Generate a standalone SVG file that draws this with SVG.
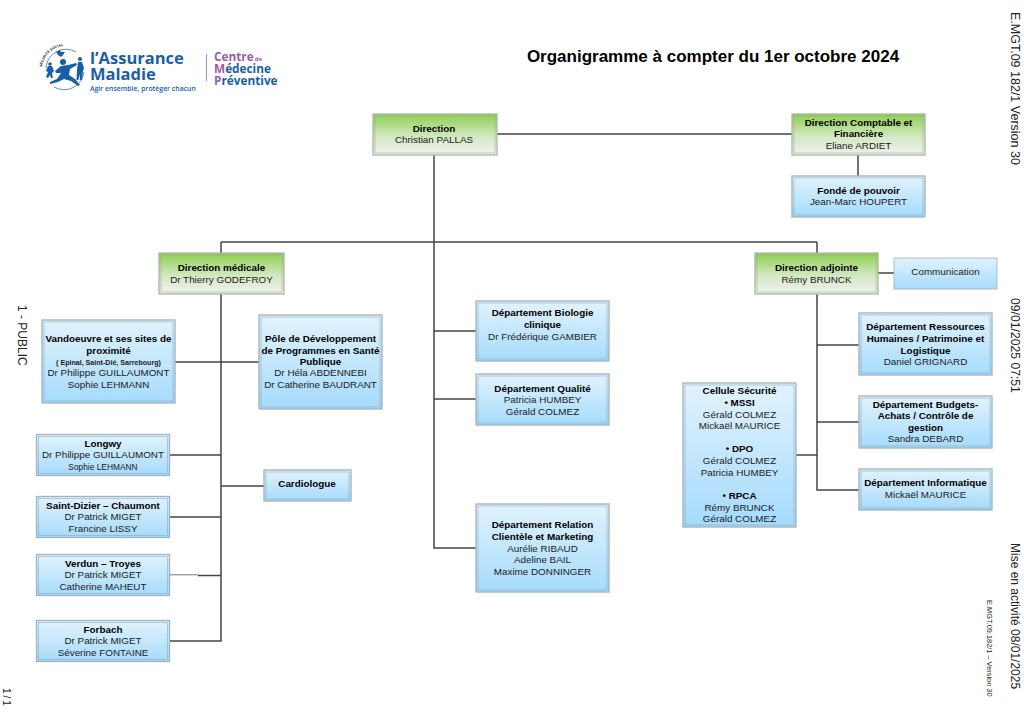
<svg xmlns="http://www.w3.org/2000/svg" width="1024" height="724" viewBox="0 0 1024 724">
<style>
text{font-family:"Liberation Sans",Arial,sans-serif;fill:#1a1a1a}
.t{font-size:9.850px;text-anchor:middle;transform:translateY(-.5px)}
.b{font-size:9.850px;text-anchor:middle;font-weight:bold;fill:#000;transform:translateY(-.5px)}
.s{font-size:7.100px;text-anchor:middle;font-weight:bold}
.r{font-size:12px;fill:#222}
.blue{fill:url(#gb);stroke:#9fb2bf;stroke-width:1.300}
.green{fill:url(#gg);stroke:#a9b8a0;stroke-width:1.300}
.inner{fill:none;stroke:#7f9fb5;stroke-width:.5}
.ing{fill:none;stroke:#98a58e;stroke-width:.5}
.c{fill:none;stroke:#444;stroke-width:1.500}
.c2{fill:none;stroke:#666;stroke-width:.9}
.lb{fill:#1a5ea8;font-family:"Open Sans","Liberation Sans",sans-serif;font-weight:bold}
.la{fill:#1a5ea8;font-family:"Open Sans","Liberation Sans",sans-serif;font-weight:600}
.lp{fill:#9a5ba8}
.fig{fill:#1a5ea8}
</style>
<defs>
<linearGradient id="gb" x1="0" y1="0" x2="0" y2="1"><stop offset="0" stop-color="#e2f3fd"/><stop offset="1" stop-color="#a5dbfc"/></linearGradient>
<linearGradient id="gg" x1="0" y1="0" x2="0" y2="1"><stop offset="0" stop-color="#8cd04e"/><stop offset=".55" stop-color="#d3e8c2"/><stop offset="1" stop-color="#f1f1f1"/></linearGradient>
</defs>
<rect width="1024" height="724" fill="#fff"/>

<g id="logo">
<path d="M46 68A20 20 0 0 1 76 52" fill="none" stroke="#1a5ea8" stroke-width=".7"/>
<path d="M54 87A20 20 0 0 0 84 72" fill="none" stroke="#1a5ea8" stroke-width=".7"/>
<circle class="fig" cx="63" cy="62" r="3"/>
<path class="fig" d="M55 71L61 66L68 65L76 63L77 65L70 69L69 75L75 79L80 85L78 86L71 81L64 79L58 82L50 84L50 82L57 79L61 73L56 73Z"/>
<circle class="fig" cx="80" cy="59" r="2"/>
<path class="fig" d="M78 62L82 62L84 68L83 71L82 80L80 80L79.500 74L78.500 80L76.500 80L77 70Z"/>
<circle class="fig" cx="50" cy="64" r="1.800"/>
<path class="fig" d="M48 66L52 66L54 71L52 73L53 78L51 78L50 75L48 78L46 77L48 72L46 71Z"/>
<path class="fig" d="M56 52L60 50L61 52L65 52L63 55L61 57L58 55Z"/>
<path id="arc" d="M42 67A24 24 0 0 1 64 46" fill="none"/>
<text font-size="3.500" fill="#1a5ea8" font-weight="bold"><textPath href="#arc">SÉCURITÉ SOCIALE</textPath></text>
<text class="lb" x="90" y="64" font-size="16.500">l’Assurance</text>
<text class="lb" x="90" y="80" font-size="16.500">Maladie</text>
<text class="la" x="90" y="90.500" font-size="6.900">Agir ensemble, protéger chacun</text>
<rect x="206" y="54" width="1" height="27" fill="#b58bc0"/>
<text class="lb" x="214" y="60.500" font-size="11.800"><tspan class="lp">Centre</tspan><tspan class="lp" font-size="6" dx="1">de</tspan></text>
<text class="lb" x="214" y="72.500" font-size="11.800"><tspan class="lp">M</tspan>édecine</text>
<text class="lb" x="214" y="84.500" font-size="11.800"><tspan class="lp">P</tspan>réventive</text>
</g>

<text id="title" x="713" y="62" font-size="17" font-weight="bold" text-anchor="middle" style="fill:#000">Organigramme à compter du 1er octobre 2024</text>

<g id="margins">
<text class="r" style="font-size:12.500px" transform="translate(1011 12) rotate(90)">E.MGT.09 182/1 Version 30</text>
<text class="r" transform="translate(1011 298) rotate(90)" style="font-size:12.200px">09/01/2025 07:51</text>
<text class="r" transform="translate(1011 543) rotate(90)">Mise en activité 08/01/2025</text>
<text transform="translate(987 600) rotate(90)" font-size="7.400">E.MGT.09.182/1 – Version 30</text>
<text class="r" transform="translate(18 305) rotate(90)">1 - PUBLIC</text>
<text transform="translate(3 688) rotate(90)" font-size="10" letter-spacing="2">1/1</text>
</g>

<g id="connectors">
<path class="c" d="M497 134H792M858 155V176M434 155V548H476M221 242H817M221 242V253M817 242V253M221 294V641H170M817 294V490H859M175 362H259M170 455H221M221 486H264M170 517H221M198 575.500H221M434 331H476M434 399H476M878 273H894M817 345H859M817 422H859M796 455H817"/>
<path class="c2" d="M170 574.800H198"/>
</g>

<g id="n-direction"><rect class="green" x="373" y="114" width="124" height="41"/><rect class="ing" x="375" y="116" width="120" height="37"/><text class="b" x="434" y="132">Direction</text><text class="t" x="434" y="143">Christian PALLAS</text></g>
<g id="n-comptable"><rect class="green" x="792" y="114" width="133" height="41"/><rect class="ing" x="794" y="116" width="129" height="37"/><text class="b" x="858.500" y="126">Direction Comptable et</text><text class="b" x="858.500" y="137.500">Financière</text><text class="t" x="858.500" y="149">Eliane ARDIET</text></g>
<g id="n-fonde"><rect class="blue" x="792" y="176" width="133" height="41"/><rect class="inner" x="794" y="178" width="129" height="37"/><text class="b" x="858.500" y="194">Fondé de pouvoir</text><text class="t" x="858.500" y="205">Jean-Marc HOUPERT</text></g>
<g id="n-medicale"><rect class="green" x="159" y="253" width="125" height="41"/><rect class="ing" x="161" y="255" width="121" height="37"/><text class="b" x="221.500" y="271">Direction médicale</text><text class="t" x="221.500" y="283">Dr Thierry GODEFROY</text></g>
<g id="n-adjointe"><rect class="green" x="755" y="253" width="123" height="41"/><rect class="ing" x="757" y="255" width="119" height="37"/><text class="b" x="816.500" y="271">Direction adjointe</text><text class="t" x="816.500" y="283">Rémy BRUNCK</text></g>
<g id="n-communication"><rect class="blue" x="894" y="258" width="103" height="31" style="stroke-width:.8"/><text class="t" x="945.500" y="275">Communication</text></g>
<g id="n-vandoeuvre"><rect class="blue" x="42" y="320" width="133" height="83"/><rect class="inner" x="44" y="322" width="129" height="79"/><text class="b" x="108.500" y="342">Vandoeuvre et ses sites de</text><text class="b" x="108.500" y="354">proximité</text><text class="s" x="108.500" y="365">( Epinal, Saint-Dié, Sarrebourg)</text><text class="t" x="108.500" y="376">Dr Philippe GUILLAUMONT</text><text class="t" x="108.500" y="388">Sophie LEHMANN</text></g>
<g id="n-pole"><rect class="blue" x="259" y="315" width="123" height="94"/><rect class="inner" x="261" y="317" width="119" height="90"/><text class="b" x="320.500" y="342">Pôle de Développement</text><text class="b" x="320.500" y="354">de Programmes en Santé</text><text class="b" x="320.500" y="365">Publique</text><text class="t" x="320.500" y="376">Dr Héla ABDENNEBI</text><text class="t" x="320.500" y="388">Dr Catherine BAUDRANT</text></g>
<g id="n-longwy"><rect class="blue" x="36.500" y="434.500" width="133" height="41"/><rect class="inner" x="38.500" y="436.500" width="129" height="37"/><text class="b" x="103" y="447">Longwy</text><text class="t" x="103" y="458">Dr Philippe GUILLAUMONT</text><text x="103" y="470" font-size="8.400" text-anchor="middle">Sophie LEHMANN</text></g>
<g id="n-cardiologue"><rect class="blue" x="264" y="470" width="87" height="31"/><rect class="inner" x="266" y="472" width="83" height="27"/><text class="b" x="307" y="487">Cardiologue</text></g>
<g id="n-saintdizier"><rect class="blue" x="36.500" y="496.500" width="133" height="41"/><rect class="inner" x="38.500" y="498.500" width="129" height="37"/><text class="b" x="103" y="509">Saint-Dizier – Chaumont</text><text class="t" x="103" y="520.500">Dr Patrick MIGET</text><text class="t" x="103" y="532">Francine LISSY</text></g>
<g id="n-verdun"><rect class="blue" x="36.500" y="554.500" width="133" height="41"/><rect class="inner" x="38.500" y="556.500" width="129" height="37"/><text class="b" x="103" y="567">Verdun – Troyes</text><text class="t" x="103" y="578.500">Dr Patrick MIGET</text><text class="t" x="103" y="590">Catherine MAHEUT</text></g>
<g id="n-forbach"><rect class="blue" x="36.500" y="620.500" width="133" height="41"/><rect class="inner" x="38.500" y="622.500" width="129" height="37"/><text class="b" x="103" y="633">Forbach</text><text class="t" x="103" y="644.500">Dr Patrick MIGET</text><text class="t" x="103" y="656">Séverine FONTAINE</text></g>
<g id="n-biologie"><rect class="blue" x="476" y="301" width="133" height="60"/><rect class="inner" x="478" y="303" width="129" height="56"/><text class="b" x="542.500" y="316">Département Biologie</text><text class="b" x="542.500" y="328">clinique</text><text class="t" x="542.500" y="340">Dr Frédérique GAMBIER</text></g>
<g id="n-qualite"><rect class="blue" x="476" y="374" width="133" height="51"/><rect class="inner" x="478" y="376" width="129" height="47"/><text class="b" x="542.500" y="392">Département Qualité</text><text class="t" x="542.500" y="403">Patricia HUMBEY</text><text class="t" x="542.500" y="415">Gérald COLMEZ</text></g>
<g id="n-relation"><rect class="blue" x="476" y="504" width="133" height="88"/><rect class="inner" x="478" y="506" width="129" height="84"/><text class="b" x="542.500" y="528">Département Relation</text><text class="b" x="542.500" y="540">Clientèle et Marketing</text><text class="t" x="542.500" y="552">Aurélie RIBAUD</text><text class="t" x="542.500" y="563.500">Adeline BAIL</text><text class="t" x="542.500" y="575">Maxime DONNINGER</text></g>
<g id="n-cellule"><rect class="blue" x="683" y="383" width="113" height="144"/><rect class="inner" x="685" y="385" width="109" height="140"/><text class="b" x="739.500" y="394">Cellule Sécurité</text><text class="b" x="739.500" y="406">• MSSI</text><text class="t" x="739.500" y="418">Gérald COLMEZ</text><text class="t" x="739.500" y="429">Mickaël MAURICE</text><text class="b" x="739.500" y="452">• DPO</text><text class="t" x="739.500" y="464.500">Gérald COLMEZ</text><text class="t" x="739.500" y="476">Patricia HUMBEY</text><text class="b" x="739.500" y="499">• RPCA</text><text class="t" x="739.500" y="511">Rémy BRUNCK</text><text class="t" x="739.500" y="522.500">Gérald COLMEZ</text></g>
<g id="n-rh"><rect class="blue" x="859" y="313" width="133" height="62"/><rect class="inner" x="861" y="315" width="129" height="58"/><text class="b" x="925.500" y="330">Département Ressources</text><text class="b" x="925.500" y="342">Humaines / Patrimoine et</text><text class="b" x="925.500" y="354">Logistique</text><text class="t" x="925.500" y="365">Daniel GRIGNARD</text></g>
<g id="n-budgets"><rect class="blue" x="859" y="396" width="133" height="52"/><rect class="inner" x="861" y="398" width="129" height="48"/><text class="b" x="925.500" y="408">Département Budgets-</text><text class="b" x="925.500" y="419.500">Achats / Contrôle de</text><text class="b" x="925.500" y="431.500">gestion</text><text class="t" x="925.500" y="442.500">Sandra DEBARD</text></g>
<g id="n-info"><rect class="blue" x="859" y="469" width="133" height="41"/><rect class="inner" x="861" y="471" width="129" height="37"/><text class="b" x="925.500" y="486.500">Département Informatique</text><text class="t" x="925.500" y="498">Mickaël MAURICE</text></g>
</svg>
